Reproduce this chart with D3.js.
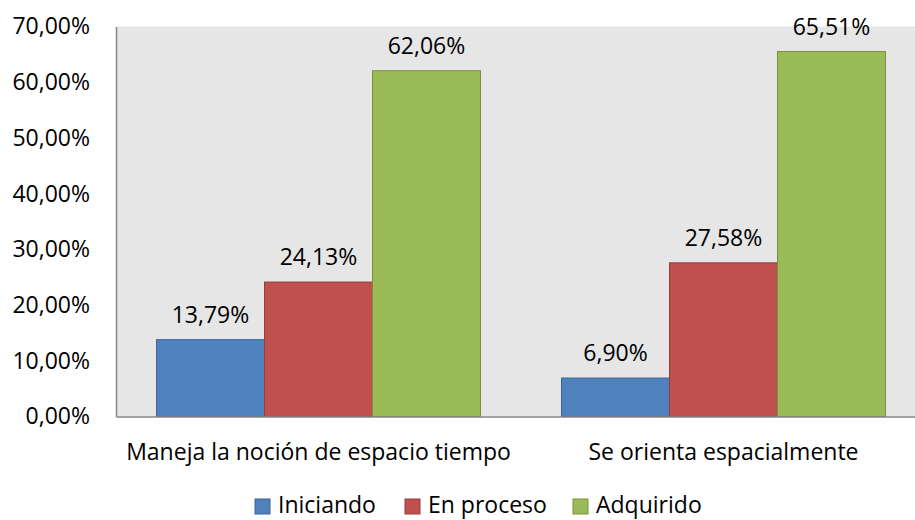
<!DOCTYPE html>
<html>
<head>
<meta charset="utf-8">
<script src="https://cdn.jsdelivr.net/npm/d3@7"></script>
<style>
  html, body { margin: 0; padding: 0; background: #ffffff; }
  svg { display: block; font-family: "Open Sans", "Noto Sans", sans-serif; }
</style>
</head>
<body>
<svg id="chart" width="915" height="520"></svg>
<script>
const categories = ["Maneja la noción de espacio tiempo", "Se orienta espacialmente"];
const seriesNames = ["Iniciando", "En proceso", "Adquirido"];
const iniciando = [13.79, 6.90];
const enProceso = [24.13, 27.58];
const adquirido = [62.06, 65.51];
const yTicks = [0, 10, 20, 30, 40, 50, 60, 70];
const seriesColors = ["#4f81bd", "#c0504d", "#9bbb59"];
const seriesStrokes = ["#3a6595", "#943c3a", "#77923f"];

const seriesValues = [iniciando, enProceso, adquirido];
const data = categories.map((c, i) => ({
  category: c,
  values: seriesNames.map((s, j) => ({ series: s, idx: j, value: seriesValues[j][i] }))
}));

const svg = d3.select("#chart");
const FONT = "'Open Sans', 'Noto Sans', sans-serif";
const plot = { left: 116, right: 926, top: 26.5, bottom: 416.5 };
const fontSize = 23;
const fmt = v => v.toFixed(2).replace(".", ",") + "%";

const x0 = d3.scaleBand().domain(categories).range([plot.left, plot.right])
  .paddingInner(0.2).paddingOuter(0.1);
const x1 = d3.scaleBand().domain(seriesNames).range([0, x0.bandwidth()]).padding(0);
const y = d3.scaleLinear().domain([0, 70]).range([plot.bottom, plot.top]);

// plot background
svg.append("rect")
  .attr("x", plot.left).attr("y", plot.top)
  .attr("width", plot.right - plot.left).attr("height", plot.bottom - plot.top)
  .attr("fill", "#e6e6e6");

// bars
const groups = svg.append("g").selectAll("g").data(data).join("g")
  .attr("transform", d => `translate(${x0(d.category)},0)`);

groups.selectAll("rect").data(d => d.values).join("rect")
  .attr("x", d => x1(d.series))
  .attr("y", d => y(d.value))
  .attr("width", x1.bandwidth())
  .attr("height", d => y(0) - y(d.value))
  .attr("fill", d => seriesColors[d.idx])
  .attr("stroke", d => seriesStrokes[d.idx])
  .attr("stroke-width", 1);

groups.selectAll("text").data(d => d.values).join("text")
  .attr("x", d => x1(d.series) + x1.bandwidth() / 2)
  .attr("y", d => y(d.value) - 17)
  .attr("text-anchor", "middle")
  .attr("font-size", fontSize)
  .attr("font-family", FONT)
  .attr("fill", "#000")
  .text(d => fmt(d.value));

// y axis
const yAxis = d3.axisLeft(y).tickValues(yTicks).tickSize(0).tickPadding(26)
  .tickFormat(v => fmt(v));
const yg = svg.append("g").attr("transform", `translate(${plot.left},0)`).call(yAxis);
yg.select(".domain").attr("stroke", "#868686").attr("stroke-width", 1.5);
yg.selectAll("text").attr("font-size", fontSize).attr("fill", "#000")
  .attr("font-family", FONT);

// x axis
const xAxis = d3.axisBottom(x0).tickSize(0).tickPadding(27);
const xg = svg.append("g").attr("transform", `translate(0,${plot.bottom})`).call(xAxis);
xg.select(".domain").attr("stroke", "#868686").attr("stroke-width", 1.5);
xg.selectAll("text").attr("font-size", fontSize).attr("fill", "#000")
  .attr("font-family", FONT);

// legend
const legendX = [255, 405, 573];
const legend = svg.append("g").selectAll("g").data(seriesNames).join("g")
  .attr("transform", (d, i) => `translate(${legendX[i]},499)`);
legend.append("rect")
  .attr("width", 15).attr("height", 15)
  .attr("fill", (d, i) => seriesColors[i])
  .attr("stroke", (d, i) => seriesStrokes[i]);
legend.append("text")
  .attr("x", 23).attr("y", 7)
  .attr("dy", "0.3em")
  .attr("font-size", fontSize)
  .attr("font-family", FONT)
  .attr("fill", "#000")
  .text(d => d);
</script>
</body>
</html>
